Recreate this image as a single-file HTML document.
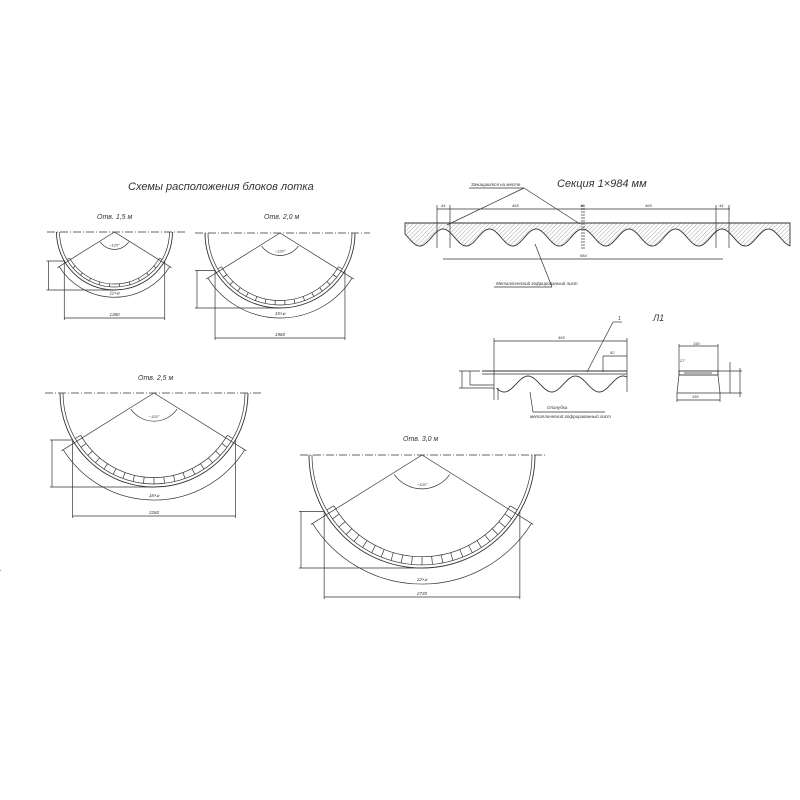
<!DOCTYPE html>
<html><head><meta charset="utf-8"><style>
html,body{margin:0;padding:0;background:#fff;width:800px;height:800px;overflow:hidden}
svg{display:block}
text{font-family:"Liberation Sans",sans-serif;font-style:italic;fill:#333}
</style></head><body>
<svg id="s" width="800" height="800" viewBox="0 0 800 800" xmlns="http://www.w3.org/2000/svg" stroke="#333" stroke-width="0.7" fill="none">
<defs>
<pattern id="h" width="3" height="3" patternUnits="userSpaceOnUse" patternTransform="rotate(45)">
<line x1="0" y1="0" x2="0" y2="3" stroke="#555" stroke-width="0.5"/></pattern>
</defs>
<text x="128" y="190" font-size="11" stroke="none">Схемы расположения блоков лотка</text>
<text x="97" y="219" font-size="7" stroke="none">Отв. 1,5 м</text>
<text x="264" y="219" font-size="7" stroke="none">Отв. 2,0 м</text>
<text x="138" y="380" font-size="7" stroke="none">Отв. 2,5 м</text>
<text x="403" y="441" font-size="7" stroke="none">Отв. 3,0 м</text>
<g id="g"></g>

<text x="557" y="187" font-size="11" stroke="none">Секция 1×984 мм</text>
<text x="471" y="186" font-size="4.5" stroke="none">Зачищаются на месте</text>
<line x1="469" y1="188" x2="524" y2="188"/>
<line x1="524" y1="188" x2="447" y2="225"/><line x1="524" y1="188" x2="580" y2="224"/>
<path id="wave" fill="url(#h)" stroke="#333" stroke-width="0.9" d=""/>
<line x1="405" y1="223" x2="790" y2="223" stroke-width="1"/>
<line x1="437" y1="209" x2="730" y2="209"/>
<line x1="437" y1="205" x2="437" y2="248"/><line x1="450" y1="205" x2="450" y2="248"/>
<line x1="582" y1="205" x2="582" y2="250" stroke-dasharray="2,1"/><line x1="584" y1="205" x2="584" y2="250" stroke-dasharray="2,1"/>
<line x1="716" y1="205" x2="716" y2="248"/><line x1="729" y1="205" x2="729" y2="248"/>
<text x="441" y="207" font-size="4" stroke="none">44</text>
<text x="512" y="207" font-size="4" stroke="none">465</text>
<text x="580" y="207" font-size="4" stroke="none">16</text>
<text x="645" y="207" font-size="4" stroke="none">465</text>
<text x="719" y="207" font-size="4" stroke="none">44</text>
<line x1="443" y1="259" x2="723" y2="259"/>
<text x="580" y="257" font-size="4" stroke="none">984</text>
<line x1="552" y1="287" x2="494" y2="287"/><line x1="552" y1="287" x2="535" y2="244"/>
<text x="496" y="285" font-size="4.5" stroke="none">Металлический гофрированный лист</text>

<text x="653" y="321" font-size="9" stroke="none">Л1</text>
<line x1="494" y1="341" x2="627" y2="341"/><line x1="494" y1="338" x2="494" y2="390"/><line x1="627" y1="338" x2="627" y2="392"/>
<text x="558" y="339" font-size="4" stroke="none">465</text>
<line x1="603" y1="356" x2="627" y2="356"/><line x1="603" y1="356" x2="603" y2="372"/>
<text x="610" y="354" font-size="4" stroke="none">82</text>
<line x1="482" y1="371" x2="627" y2="371" stroke-width="1"/><line x1="482" y1="374" x2="627" y2="374"/>
<path id="w2" stroke-width="0.9" d=""/>
<line x1="587" y1="372" x2="613" y2="322"/><line x1="613" y1="322" x2="622" y2="322"/>
<text x="618" y="320" font-size="5" stroke="none">1</text>
<line x1="459" y1="371" x2="480" y2="371"/><line x1="459" y1="388" x2="494" y2="388"/><line x1="462" y1="371" x2="462" y2="388"/><line x1="470" y1="371" x2="470" y2="385"/>
<line x1="470" y1="385" x2="494" y2="385"/><line x1="494" y1="388" x2="494" y2="400"/><line x1="498" y1="388" x2="498" y2="400"/>
<line x1="530" y1="392" x2="533" y2="412"/><line x1="533" y1="412" x2="605" y2="412"/>
<text x="547" y="409" font-size="4.5" stroke="none">Опалубка</text>
<text x="530" y="418" font-size="4.5" stroke="none">металлический гофрированный лист</text>
<line x1="679" y1="346" x2="718" y2="346"/><line x1="679" y1="344" x2="679" y2="372"/><line x1="718" y1="344" x2="718" y2="372"/>
<text x="693" y="345" font-size="4" stroke="none">150</text>
<rect x="679" y="371" width="39" height="4" stroke-width="0.9"/>
<line x1="684" y1="373" x2="712" y2="373"/>
<path d="M679 375 L677 393 L720 393 L718 375"/>
<line x1="677" y1="400" x2="720" y2="400"/><text x="692" y="398" font-size="4" stroke="none">150</text>
<line x1="677" y1="393" x2="677" y2="402"/><line x1="720" y1="393" x2="720" y2="402"/>
<line x1="730" y1="362" x2="730" y2="393"/><line x1="740" y1="368" x2="740" y2="397"/>
<line x1="718" y1="371" x2="742" y2="371"/><line x1="720" y1="393" x2="742" y2="393"/>
<text x="680" y="362" font-size="4" stroke="none">27</text>
<rect x="0" y="570" width="1" height="1" fill="#999" stroke="none"/>
</svg>
<script>
var NS="http://www.w3.org/2000/svg",g=document.getElementById('g');
function el(t,a){var e=document.createElementNS(NS,t);for(var k in a)e.setAttribute(k,a[k]);g.appendChild(e);return e}
function P(cx,cy,r,a){a=a*Math.PI/180;return [cx+r*Math.sin(a),cy+r*Math.cos(a)]}
function arc(cx,cy,r,a1,a2){var p=P(cx,cy,r,a1),q=P(cx,cy,r,a2);return "M"+p[0]+" "+p[1]+" A"+r+" "+r+" 0 0 0 "+q[0]+" "+q[1]}
function txt(x,y,s,t){var e=el('text',{x:x,y:y,'font-size':s,stroke:'none','text-anchor':'middle'});e.textContent=t}
var D=[[114.5,232,58,47,186,318,'1380','11×',11],[280,233,75,195,370,338,'1960','15×',15],[154,393,94,45,262,516,'2260','18×',18],[422,455,113,300,545,597,'2730','22×',22]];
D.forEach(function(d){var cx=d[0],cy=d[1],R=d[2];
el('line',{x1:d[3],y1:cy,x2:d[4],y2:cy,'stroke-dasharray':'8,2,1,2'});
el('path',{d:"M"+(cx-R)+" "+cy+" A"+R+" "+R+" 0 0 0 "+(cx+R)+" "+cy,'stroke-width':0.9});
var r2=R-3;el('path',{d:"M"+(cx-r2)+" "+cy+" A"+r2+" "+r2+" 0 0 0 "+(cx+r2)+" "+cy});
var ri=R-Math.max(6,R*0.1);el('path',{d:arc(cx,cy,ri,-60,60)});
var n=d[8];for(var i=0;i<=n;i++){var a=-60+120*i/n,p=P(cx,cy,ri,a),q=P(cx,cy,r2,a);el('line',{x1:p[0],y1:p[1],x2:q[0],y2:q[1]});}
var rl=R*1.16;[-58,58].forEach(function(a){var q=P(cx,cy,rl,a);el('line',{x1:cx,y1:cy,x2:q[0],y2:q[1]});});
el('path',{d:arc(cx,cy,rl-2,-58,58)});
el('path',{d:arc(cx,cy,R*0.3,-55,55)});
txt(cx,cy+R*0.3-3,4,'~120°');
txt(cx,cy+rl-5,4.5,d[7]+'⌀');
var xs=R*Math.sin(Math.PI/3);
el('line',{x1:cx-xs,y1:d[5],x2:cx+xs,y2:d[5]});
el('line',{x1:cx-xs,y1:cy+R*0.5,x2:cx-xs,y2:d[5]+2});el('line',{x1:cx+xs,y1:cy+R*0.5,x2:cx+xs,y2:d[5]+2});
txt(cx,d[5]-2,4.5,d[6]);
var vx=cx-R-8;el('line',{x1:vx,y1:cy+R*0.5,x2:vx,y2:cy+R});
el('line',{x1:vx-2,y1:cy+R*0.5,x2:cx-xs,y2:cy+R*0.5});el('line',{x1:vx-2,y1:cy+R,x2:cx,y2:cy+R});
});
var s="M405 223 L405 232",p=46.5;
for(var x=405;x<=790;x+=1){var y=237.5-8.5*Math.cos((x-443)/p*2*Math.PI);s+=" L"+x+" "+y;}
s+=" L790 223 Z";document.getElementById('wave').setAttribute('d',s);
var w="M497 388";for(var x=497;x<=627;x++){var y=384-8*Math.cos((x-528)/47.5*2*Math.PI);w+=" L"+x+" "+y;}
document.getElementById('w2').setAttribute('d',w);
</script>
</body></html>
